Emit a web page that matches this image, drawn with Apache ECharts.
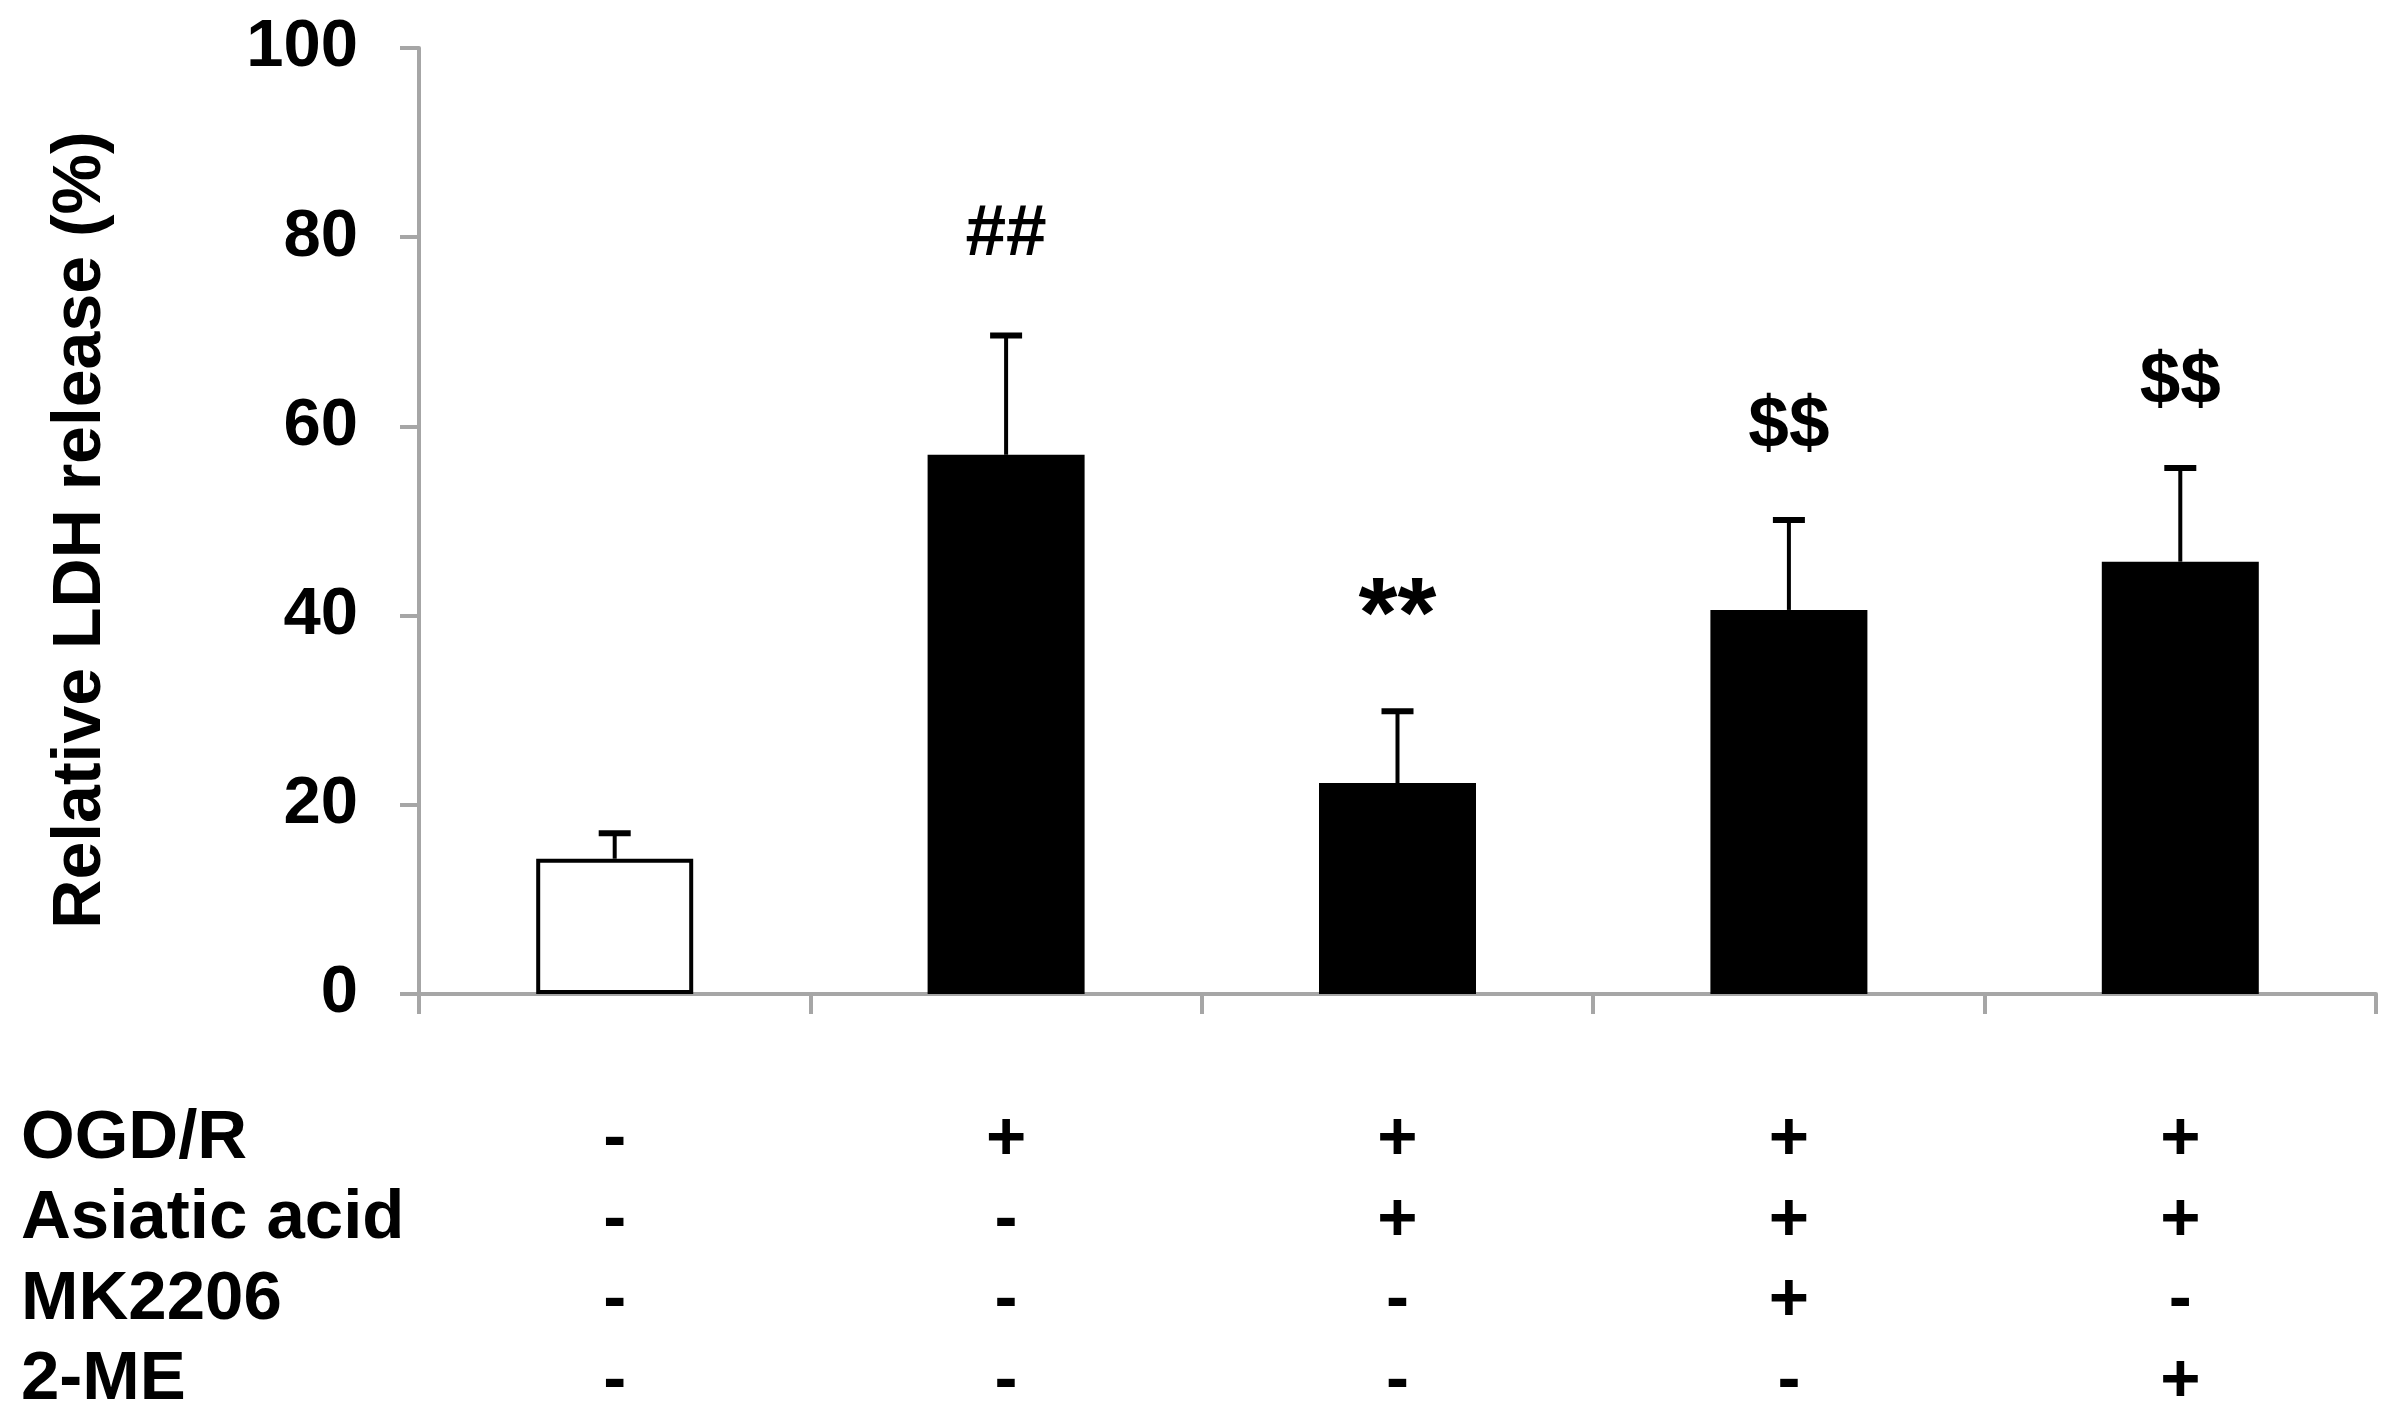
<!DOCTYPE html>
<html>
<head>
<meta charset="utf-8">
<script src="https://cdn.jsdelivr.net/npm/echarts@6/dist/echarts.min.js"></script>
<style>
  html, body { margin: 0; padding: 0; background: #fff; }
  #chart { width: 2397px; height: 1422px; }
</style>
</head>
<body>
<div id="chart"></div>
<script>
// groups (one per bar)
const groups = ['G1', 'G2', 'G3', 'G4', 'G5'];
// mean LDH release (%)
const meanValues = [14.3, 57.0, 22.3, 40.6, 45.7];
// upper end of the error bar
const errorTops = [17.0, 69.6, 29.9, 50.1, 55.6];
// significance marks and their heights
const marks = ['', '##', '**', '$$', '$$'];
const markHeights = [null, 80.2, 39.6, 60.0, 64.6];
// treatment table under the axis
const rowNames = ['OGD/R', 'Asiatic acid', 'MK2206', '2-ME'];
const ogdR = ['-', '+', '+', '+', '+'];
const asiatic = ['-', '-', '+', '+', '+'];
const mk2206 = ['-', '-', '-', '+', '-'];
const twoME = ['-', '-', '-', '-', '+'];
const yTicks = [0, 20, 40, 60, 80, 100];

const FONT = '"Liberation Sans", Arial, sans-serif';
const AXIS_GRAY = '#a6a6a6';
const ROW_H = 80.5;

const chart = echarts.init(document.getElementById('chart'));

const option = {
  animation: false,
  backgroundColor: '#fff',
  grid: { left: 419, right: 21, top: 48, bottom: 426 },
  xAxis: {
    type: 'category',
    data: groups,
    axisLine: { lineStyle: { color: AXIS_GRAY, width: 4 } },
    axisTick: { show: true, length: 20, lineStyle: { color: AXIS_GRAY, width: 4 } },
    axisLabel: {
      margin: 106,
      fontFamily: FONT,
      fontWeight: 'bold',
      fontSize: 69,
      color: '#000',
      lineHeight: ROW_H,
      formatter: function (v, i) {
        return [ogdR[i], asiatic[i], mk2206[i], twoME[i]].join('\n');
      }
    }
  },
  yAxis: {
    type: 'value',
    min: 0,
    max: 100,
    interval: 20,
    name: 'Relative LDH release (%)',
    nameLocation: 'middle',
    nameGap: 304,
    nameTextStyle: {
      fontFamily: FONT, fontWeight: 'bold', fontSize: 68, color: '#000',
      padding: [0, 18, 0, 0]
    },
    axisLine: { show: true, lineStyle: { color: AXIS_GRAY, width: 4 } },
    axisTick: { show: true, length: 19, lineStyle: { color: AXIS_GRAY, width: 4 } },
    splitLine: { show: false },
    axisLabel: {
      margin: 61,
      fontFamily: FONT,
      fontWeight: 'bold',
      fontSize: 67,
      color: '#000',
      formatter: function (v) { return yTicks.indexOf(v) >= 0 ? String(v) : ''; }
    }
  },
  graphic: rowNames.map(function (name, i) {
    return {
      type: 'text',
      left: 21,
      top: 1144 + i * ROW_H - 40,
      style: { text: name, fontFamily: FONT, fontWeight: 'bold', fontSize: 69, fill: '#000' }
    };
  }),
  series: [
    {
      type: 'bar',
      barWidth: 157,
      z: 2,
      data: meanValues.map(function (v, i) {
        return i === 0
          ? { value: v, itemStyle: { color: '#fff', borderColor: '#000', borderWidth: 4 } }
          : { value: v, itemStyle: { color: '#000' } };
      })
    },
    {
      type: 'custom',
      z: 3,
      data: groups.map(function (g, i) { return [i, meanValues[i], errorTops[i]]; }),
      renderItem: function (params, api) {
        const base = api.coord([api.value(0), api.value(1)]);
        const top = api.coord([api.value(0), api.value(2)]);
        const half = 16;
        return {
          type: 'group',
          children: [
            {
              type: 'line',
              shape: { x1: base[0], y1: base[1], x2: top[0], y2: top[1] },
              style: { stroke: '#000', lineWidth: 4 }
            },
            {
              type: 'line',
              shape: { x1: top[0] - half, y1: top[1], x2: top[0] + half, y2: top[1] },
              style: { stroke: '#000', lineWidth: 6 }
            }
          ]
        };
      }
    },
    {
      type: 'scatter',
      symbolSize: 0,
      z: 4,
      itemStyle: { opacity: 1 },
      data: groups.map(function (g, i) {
        return markHeights[i] === null ? null : {
          value: [i, markHeights[i]],
          label: {
            show: true,
            position: 'inside',
            formatter: marks[i],
            fontFamily: FONT,
            fontWeight: 'bold',
            fontSize: marks[i] === '**' ? 100 : 73,
            color: '#000',
            opacity: 1
          }
        };
      }).filter(function (d) { return d !== null; })
    }
  ]
};

chart.setOption(option);
</script>
</body>
</html>
